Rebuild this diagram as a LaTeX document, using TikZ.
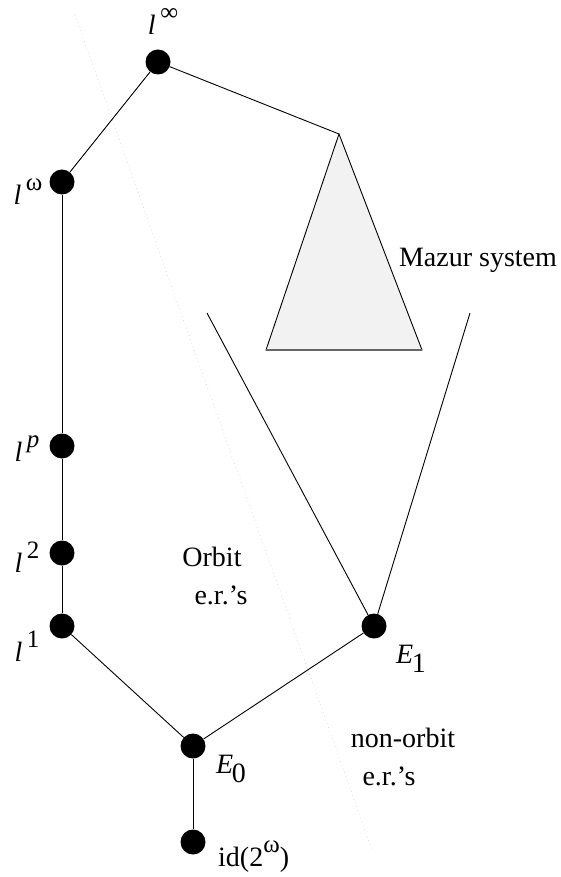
\documentclass[tikz,border=0pt]{standalone}
\usepackage{fontspec}
\setmainfont{Liberation Serif}
\usetikzlibrary{positioning,calc}
\definecolor{mazurcol}{RGB}{242,242,242}
\definecolor{sepcol}{RGB}{205,205,205}
\newcommand{\hiup}[1]{\raisebox{0.5em}{\fontsize{25}{25}\selectfont #1}}
\newcommand{\lowdn}[1]{\kern-0.04em\raisebox{-0.32em}{\fontsize{28}{28}\selectfont #1}}

\begin{document}
\begin{tikzpicture}[
    x=1pt, y=-1pt,
    vtx/.style={circle, fill=black, inner sep=0pt, minimum size=25pt},
    lbl/.style={font=\fontsize{28}{32}\selectfont, inner sep=0pt, align=left},
    edge/.style={line width=0.9pt, black},
    sep/.style={sepcol, line width=0.8pt, dash pattern=on 0.5pt off 3.5pt},
]
\useasboundingbox (0,0) rectangle (561,877);

% separating line between orbit and non-orbit
\coordinate (S1) at (75,15);
\coordinate (S2) at (372,850);
\draw[sep] (S1) -- (S2);

% Mazur system
\coordinate (T0) at (339,134);
\coordinate (T1) at (266,350);
\coordinate (T2) at (422,350);
\filldraw[fill=mazurcol, draw=black, line width=0.9pt] (T0) -- (T1) -- (T2) -- cycle;
\draw[gray!80!black, line width=1.6pt] (T1) -- (T2);
\coordinate (C1) at (207,313);
\coordinate (C2) at (470,313);

% vertices
\node[vtx] (Linf) at (158,62) {};
\node[vtx] (Lom) at (62,182) {};
\node[vtx] (Lp) at (62,446) {};
\node[vtx] (L2) at (62,553) {};
\node[vtx] (L1) at (62,626) {};
\node[vtx] (E0) at (193,746) {};
\node[vtx] (Id) at (193,842) {};
\node[vtx] (E1) at (374,626) {};

\draw[edge] (Linf) -- (Lom);
\draw[edge] (Linf) -- (T0);
\draw[edge] (Lom) -- (Lp);
\draw[edge] (Lp) -- (L2);
\draw[edge] (L2) -- (L1);
\draw[edge] (L1) -- (E0);
\draw[edge] (E0) -- (E1);
\draw[edge] (E0) -- (Id);
\draw[edge] (E1) -- (C1);
\draw[edge] (E1) -- (C2);

% labels
\node[lbl] (tLinf) at (163,22) {\textit{l}\,\hiup{∞}};
\node[lbl] (tLom) at (28,192) {\textit{l}\,\hiup{ω}};
\node[lbl] (tLp) at (27,449) {\textit{l}\,\hiup{\textit{p}}};
\node[lbl] (tL2) at (27,557) {\textit{l}\,\hiup{2}};
\node[lbl] (tL1) at (27,646) {\textit{l}\,\hiup{1}};
\node[lbl] (tE0) at (231,769) {\textit{E}\lowdn{0}};
\node[lbl] (tE1) at (411,659) {\textit{E}\lowdn{1}};
\node[lbl, anchor=west] (tId) at (218,857) {id(2\hiup{ω})};
\node[lbl] (tMazur) at (478,260) {Mazur system};
\node[lbl] (tOrb) at (212,557) {Orbit};
\node[lbl] (tOrbEr) at (221,595) {e.r.’s};
\node[lbl] (tNon) at (403,738) {non-orbit};
\node[lbl] (tNonEr) at (389,776) {e.r.’s};
\end{tikzpicture}
\end{document}
